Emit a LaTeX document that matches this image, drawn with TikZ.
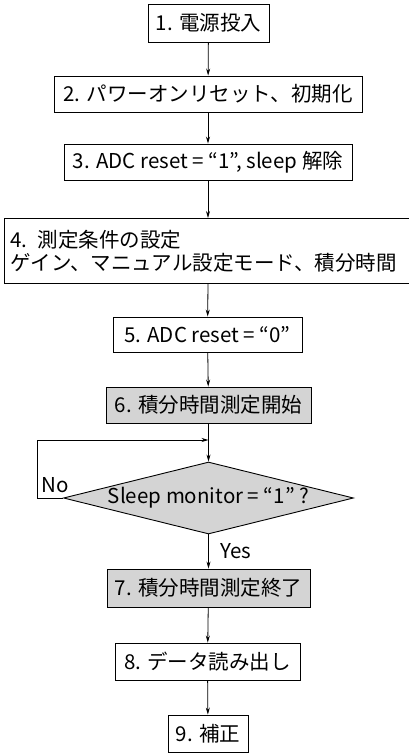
\documentclass[tikz,border=0pt]{standalone}
\usepackage{fontspec}
\setmainfont{Noto Sans CJK JP}
\usetikzlibrary{shapes.geometric,arrows.meta}
\definecolor{boxgray}{RGB}{212,212,212}

\begin{document}
\begin{tikzpicture}[x=1pt,y=-1pt,
		box/.style={draw, line width=0.9pt, inner sep=0pt, font=\fontsize{20.5}{23}\selectfont},
		graybox/.style={box, fill=boxgray},
		flow/.style={draw, line width=0.8pt, -{Stealth[length=7pt,width=4pt]}},
		tag/.style={inner sep=0pt, font=\fontsize{20.5}{23}\selectfont}
	]
				\useasboundingbox (0,0) rectangle (409,753);

				\node[box, minimum width=121pt, minimum height=38pt] (power) at (208.5,23) {1. 電源投入};
				\node[box, minimum width=308pt, minimum height=36pt] (init) at (208,94) {2. パワーオンリセット、初期化};
				\node[box, minimum width=288pt, minimum height=36pt] (adcon) at (208,162) {3. ADC reset = “1”, sleep 解除};
				\node[box, minimum width=406pt, minimum height=65pt, text width=394pt, align=left, anchor=north west] (setup) at (4,218)
					{4. 測定条件の設定\\ゲイン、マニュアル設定モード、積分時間};
				\node[box, minimum width=189pt, minimum height=35pt] (adcoff) at (207.5,334.5) {5. ADC reset = “0”};
				\node[graybox, minimum width=205pt, minimum height=36pt] (start) at (208.5,405) {6. 積分時間測定開始};
				\node[box, fill=boxgray, shape=diamond, aspect=4, minimum width=290pt, minimum height=72pt] (sleepq) at (208.5,498) {Sleep monitor = “1” ?};
				\node[graybox, minimum width=203pt, minimum height=38pt] (stop) at (208.5,588) {7. 積分時間測定終了};
				\node[box, minimum width=185pt, minimum height=37pt] (read) at (207.5,661.5) {8. データ読み出し};
				\node[box, minimum width=80pt, minimum height=37pt] (corr) at (208,733.5) {9. 補正};

				\node[tag] (nolabel) at (55,485) {No};
				\node[tag] (yeslabel) at (236,551) {Yes};

				\coordinate (loopcorner) at (37,440);
				\coordinate (loopjoin) at (208.5,440);

				\draw[flow] (power) -- (init);
				\draw[flow] (init) -- (adcon);
				\draw[flow] (adcon.south) -- (adcon.south |- setup.north);
				\draw[flow] (adcon.south |- setup.south) -- (adcoff);
				\draw[flow] (adcoff) -- (start);
				\draw[flow] (start) -- (sleepq.north);
				\draw[flow] (sleepq.west) -| (loopcorner) -- (loopjoin);
				\draw[flow] (sleepq.south) -- (stop);
				\draw[flow] (stop) -- (read);
				\draw[flow] (read) -- (corr);
			\end{tikzpicture}
\end{document}
